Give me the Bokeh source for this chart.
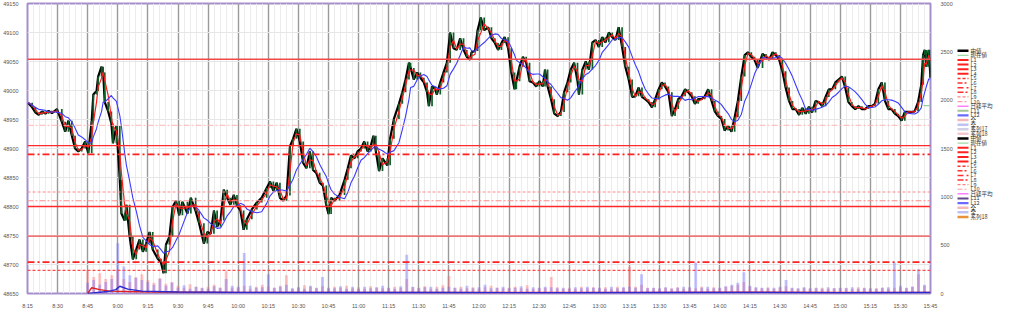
import numpy as np
from bokeh.plotting import figure
from bokeh.models import Range1d, LinearAxis, FixedTicker, Span
from bokeh.layouts import row
from bokeh.embed import file_html
from bokeh.resources import INLINE
from bokeh.core.properties import value

# ---------------- data (time = minutes after midnight) ----------------
price_t = [
    495.3, 497.3, 499.0, 500.6, 502.2, 503.9, 505.5, 507.2, 509.7, 512.1, 513.8, 515.4, 517.1, 518.7, 520.3, 522.0,
    523.7, 525.3, 527.0, 527.8, 529.4, 530.2, 531.9, 532.7, 533.5, 535.2, 536.8, 537.6, 539.3, 541.0, 541.8, 543.4,
    544.3, 545.9, 547.5, 549.2, 550.8, 552.5, 554.1, 555.8, 557.4, 559.9, 561.5, 562.8, 564.0, 565.7, 567.3, 569.0,
    570.6, 572.2, 574.7, 576.4, 578.8, 580.5, 582.9, 584.6, 586.3, 587.9,
    589.5, 591.2, 592.8, 594.5, 596.1, 597.8, 599.4, 601.1, 602.7, 604.3, 606.8, 609.3, 611.7, 614.2, 615.9, 617.5,
    619.2, 620.8, 622.5, 624.1, 625.8, 627.4, 629.0, 630.7, 632.4, 634.0, 635.7, 637.3, 638.9, 640.6, 642.2, 643.9,
    645.0, 646.3, 648.0, 650.5, 653.0, 654.6, 656.2, 657.9, 659.5, 661.2, 662.8, 664.5, 666.1, 667.4, 668.6, 670.2,
    671.9, 674.3, 675.7, 677.6,
    680.1, 681.8, 683.4, 685.1, 685.9, 687.5, 689.2, 690.8, 692.5, 694.1, 695.0, 696.6, 698.2, 699.0, 700.7, 702.3,
    704.0, 705.6, 707.3, 708.9, 710.6, 712.3, 713.9, 715.5, 716.3, 718.0, 719.3, 720.9, 722.6, 724.6, 726.2, 727.9,
    729.5, 731.2, 732.8, 734.5, 736.1, 737.7, 738.6, 740.2, 741.9, 743.5, 745.2, 746.8, 748.5, 750.1, 751.8, 752.9,
    754.2, 755.9, 757.5, 759.2, 760.8, 762.4, 764.1, 765.7, 767.4, 769.1,
    769.8, 771.5, 773.2, 774.8, 776.5, 778.1, 779.7, 781.4, 783.0, 784.7, 786.4, 788.0, 789.6, 791.3, 792.9, 794.6,
    796.3, 797.9, 799.5, 801.2, 802.8, 804.5, 806.2, 807.8, 809.5, 811.1, 812.7, 814.4, 816.1, 817.7, 819.3, 821.0,
    822.7, 824.3, 826.0, 827.6, 829.2, 830.9, 832.5, 834.2, 835.9, 837.5, 839.1, 840.8, 842.4, 844.1, 845.8, 847.4,
    849.0, 850.7, 852.4, 854.0, 855.7, 857.3, 858.9,
    861.3, 863.0, 864.6, 866.3, 867.9, 869.6, 871.2, 872.8, 874.5, 876.2, 877.8, 879.5, 881.1, 882.8, 884.4, 886.0,
    887.7, 889.3, 891.0, 892.7, 894.3, 896.0, 897.6, 899.2, 900.9, 902.5, 904.1, 905.8, 907.5, 909.1, 910.8, 912.4,
    914.1, 915.7, 917.3, 919.0, 920.7, 922.3, 924.0, 925.6, 927.2, 928.9, 930.6, 932.2, 933.8, 935.5, 937.1, 938.8,
    940.4, 941.3, 942.1, 942.9, 944.1, 945.0,
]
price_v = [
    48979, 48971, 48962, 48958, 48964, 48960, 48965, 48961, 48968, 48946, 48929, 48948, 48922, 48900, 48895, 48900,
    48912, 48892, 48948, 48993, 48999, 49024, 49041, 49031, 48980, 48964, 48943, 48909, 48939, 48846, 48788, 48776,
    48803, 48748, 48709, 48726, 48743, 48722, 48736, 48756, 48726, 48710, 48704, 48685, 48734, 48748, 48799, 48810,
    48785, 48808, 48788, 48815, 48792, 48771, 48736, 48756, 48753, 48793,
    48765, 48776, 48829, 48815, 48803, 48820, 48802, 48793, 48760, 48778, 48795, 48807, 48815, 48832, 48843, 48827,
    48841, 48815, 48810, 48819, 48904, 48917, 48934, 48912, 48875, 48866, 48895, 48863, 48858, 48841, 48836, 48802,
    48787, 48815, 48810, 48820, 48846, 48866, 48888, 48883, 48895, 48900, 48912, 48895, 48905, 48922, 48895, 48861,
    48883, 48871, 48917, 48951,
    48977, 48997, 49019, 49048, 49039, 49019, 49031, 49022, 49014, 48997, 48973, 49007, 49002, 48993, 49014, 49031,
    49048, 49100, 49073, 49070, 49090, 49070, 49058, 49053, 49066, 49068, 49104, 49126, 49104, 49109, 49090, 49082,
    49070, 49082, 49092, 49073, 49031, 49002, 49016, 49041, 49058, 49048, 49016, 49014, 49007, 49016, 49007, 49036,
    49007, 48985, 48960, 48956, 48963, 48997, 49014, 49036, 49048, 49016,
    48993, 49036, 49050, 49036, 49083, 49087, 49075, 49092, 49083, 49100, 49092, 49087, 49109, 49075, 49041, 49019,
    48989, 48990, 49005, 48989, 48985, 48980, 48971, 48985, 49002, 49014, 49007, 48997, 48956, 48968, 48985, 48990,
    49002, 48997, 48990, 48977, 48985, 48985, 48990, 49002, 48982, 48964, 48956, 48951, 48931, 48939, 48929, 48954,
    48982, 49024, 49061, 49066, 49058, 49053, 49039,
    49063, 49058, 49053, 49066, 49061, 49053, 49033, 49005, 48982, 48968, 48968, 48958, 48970, 48960, 48972, 48962,
    48982, 48980, 48973, 48989, 49002, 49002, 49014, 49019, 49024, 49005, 48980, 48973, 48968, 48973, 48968, 48968,
    48973, 48973, 48977, 49002, 49014, 48982, 48968, 48968, 48960, 48956, 48948, 48963, 48963, 48963, 48964, 48980,
    49010, 49061, 49070, 49041, 49070, 49022,
]
current_value = 48974

# horizontal levels L1..L10
level_values = [49054, 48940, 48905, 48890, 48825, 48810, 48800, 48749, 48704, 48690]

# volume (right axis), 3-minute bars from 8:45
vol_start, vol_step = 525, 3
vol_red = [
    240, 170, 210, 150, 190,  250, 150, 120, 170, 200,  140, 110, 160, 100, 120,  80, 60, 95, 70, 55,
    70, 90, 60, 230, 60,  60, 80, 50, 70, 90,  70, 60, 80, 190, 50,  60, 85, 70, 55, 75,
    50, 70, 60, 80, 55,  65, 50, 75, 60, 55,  55, 70, 60, 150, 65,  60, 75, 50, 70, 85,
    180, 60, 70, 55, 65,  50, 65, 80, 60, 55,  60, 70, 55, 85, 50,  55, 60, 170, 65, 50,
    60, 50, 70, 55, 65,  55, 65, 50, 70, 60,  280, 70, 90, 60, 55,  50, 60, 55, 65, 50,
    60, 55, 70, 50, 65,  55, 70, 80, 90, 120,  70, 60, 55, 65, 50,  60, 75, 55, 50, 60,
    50, 55, 60, 50, 55,  55, 60, 50, 65, 55,  50, 55, 60, 50, 60,  60, 55, 70, 200, 80,
]
vol_blue = [
    110, 140, 90, 120, 150,  520, 280, 190, 160, 140,  120, 90, 150, 80, 110,  60, 85, 50, 70, 60,
    50, 75, 60, 150, 80,  70, 420, 80, 60, 65,  200, 60, 70, 90, 55,  65, 50, 80, 60, 170,
    60, 55, 75, 50, 70,  50, 70, 55, 65, 80,  60, 50, 75, 400, 70,  55, 65, 70, 50, 60,
    70, 60, 50, 80, 55,  65, 90, 55, 60, 70,  55, 60, 75, 50, 65,  60, 70, 65, 55, 60,
    50, 65, 55, 70, 60,  60, 50, 70, 55, 65,  70, 60, 200, 55, 60,  55, 65, 50, 60, 70,
    65, 320, 60, 70, 55,  60, 75, 90, 110, 220,  80, 65, 60, 55, 60,  70, 140, 60, 55, 65,
    55, 60, 50, 65, 55,  60, 55, 65, 50, 60,  55, 50, 60, 65, 320,  80, 60, 70, 250, 90,
]
vol_red_line_t = [525, 527, 531, 536, 545, 560, 600, 640, 700, 760, 800, 850, 900, 945]
vol_red_line_v = [0, 60, 40, 25, 20, 15, 12, 12, 10, 10, 12, 14, 10, 12]
vol_blue_line_t = [525, 535, 539, 541, 545, 552, 570, 600, 650, 700, 760, 820, 860, 900, 945]
vol_blue_line_v = [0, 20, 40, 75, 45, 25, 15, 12, 10, 10, 8, 10, 12, 8, 10]

x_ticks = list(range(495, 946, 15))
y_ticks = list(range(48650, 49151, 50))
vol_ticks = [0, 500, 1000, 1500, 2000, 2500, 3000]

legend_labels = ["中値", "現在値", "L1", "L2", "L3", "L4", "L5", "L6", "L7", "L8", "L9", "L10",
                 "日経平均", "L11", "L12", "全", "全", "系列17", "系列18",
                 "中値", "現在値", "L1", "L2", "L3", "L4", "L5", "L6", "L7", "L8", "L9", "L10",
                 "日経平均", "L11", "L12", "全", "全", "系列18"]

# ---------------- derived ----------------
t = np.array(price_t)
v = np.array(price_v, dtype=float)


def time_ma(tt, vv, w):
    out = np.empty_like(vv)
    for i in range(len(tt)):
        m = (tt > tt[i] - w) & (tt <= tt[i])
        out[i] = vv[m].mean()
    return out


ma_short = time_ma(t, v, 3.0)
ma_long = time_ma(t, v, 10.0)

body_top = np.maximum(v[1:], v[:-1])
body_bot = np.minimum(v[1:], v[:-1])
vol_t = [vol_start + vol_step * i for i in range(len(vol_red))]

# ---------------- main figure ----------------
FONT = "Liberation Sans"
p = figure(width=955, height=311, x_range=Range1d(495, 945), y_range=Range1d(48650, 49150),
           output_backend="svg", toolbar_location=None, title=None,
           min_border_left=22, min_border_right=22, min_border_top=3, min_border_bottom=14)
p.background_fill_color = "white"
p.outline_line_color = "#a58fcb"
p.outline_line_width = 2

p.extra_y_ranges = {"vol": Range1d(0, 3000)}

for ax in [p.xaxis[0], p.yaxis[0]]:
    ax.axis_line_color = None
    ax.major_tick_line_color = None
    ax.minor_tick_line_color = None
    ax.major_label_text_font_size = "5.5px"
    ax.major_label_text_color = "#555555"
    ax.major_label_text_font = FONT
    ax.major_label_standoff = 3

p.xaxis[0].ticker = FixedTicker(ticks=x_ticks, minor_ticks=list(range(495, 946, 3)))
p.xaxis[0].major_label_overrides = {tk: f"{tk // 60}:{tk % 60:02d}" for tk in x_ticks}
p.yaxis[0].ticker = FixedTicker(ticks=y_ticks)

rax = LinearAxis(y_range_name="vol", ticker=FixedTicker(ticks=vol_ticks))
rax.axis_line_color = None
rax.major_tick_line_color = None
rax.minor_tick_line_color = None
rax.major_label_text_font_size = "5.5px"
rax.major_label_text_color = "#555555"
rax.major_label_text_font = FONT
rax.major_label_standoff = 4
p.add_layout(rax, "right")

p.xgrid.grid_line_color = "#9a9a9a"
p.xgrid.grid_line_width = 1.4
p.xgrid.minor_grid_line_color = "#ececec"
p.xgrid.minor_grid_line_width = 1
p.ygrid.ticker = FixedTicker(ticks=y_ticks)
p.ygrid.grid_line_color = "#e6e6e6"

# volume bars
p.vbar(x=vol_t, top=vol_red, bottom=0, width=1.4, y_range_name="vol",
       fill_color="#ff6a6a", line_color=None, fill_alpha=0.4)
p.vbar(x=vol_t, top=vol_blue, bottom=0, width=1.4, y_range_name="vol",
       fill_color="#6a6aff", line_color=None, fill_alpha=0.4)
p.line(vol_red_line_t, vol_red_line_v, y_range_name="vol", line_color="#e02020", line_width=1.4)
p.line(vol_blue_line_t, vol_blue_line_v, y_range_name="vol", line_color="#2a2ad0", line_width=1.4)

# horizontal levels
level_styles = [
    ("#f04a4a", 1.6, "solid"),
    ("#ffb4b4", 1.0, "6 2 2 2"),
    ("#ff2a2a", 1.3, "solid"),
    ("#ff2020", 1.8, "7 3 2 3"),
    ("#ff8c8c", 1.2, "3 2"),
    ("#ff8c8c", 1.1, "6 2 2 2"),
    ("#ff2a2a", 1.3, "solid"),
    ("#f04a4a", 1.4, "solid"),
    ("#ff2020", 1.8, "7 3 2 3"),
    ("#ff4a4a", 1.2, "3 2"),
]
for lv, (c, w, d) in zip(level_values, level_styles):
    p.add_layout(Span(location=lv, dimension="width", line_color=c, line_width=w, line_dash=d))

# price
p.line(t, v, line_color="black", line_width=2.2)
p.vbar(x=t[1:], top=body_top, bottom=body_bot, width=0.85, fill_color="#0f5e27", line_color=None)
p.line(t, ma_short, line_color="#ff1a1a", line_width=1.2)
p.line(t, ma_long, line_color="#3a3aff", line_width=1.1)
p.line([941.5, 945], [current_value, current_value], line_color="#8fd39a", line_width=1.2)

# ---------------- legend panel ----------------
leg = figure(width=69, height=311, x_range=Range1d(0, 69), y_range=Range1d(311, 0),
             output_backend="svg", toolbar_location=None, title=None,
             x_axis_type=None, y_axis_type=None,
             min_border_left=0, min_border_right=0, min_border_top=0, min_border_bottom=0)
leg.grid.visible = False
leg.outline_line_color = None

group_styles = [
    ("black", 2.4, "solid"), ("#9fd9a8", 1.2, "solid"),
    ("#ff2020", 2.0, "solid"), ("#ff2020", 2.0, "solid"), ("#ff2020", 2.0, "solid"), ("#ff2020", 2.0, "solid"),
    ("#ff3030", 1.5, "3 2"), ("#ff3030", 1.5, "5 2 2 2"), ("#ff3030", 1.5, "6 3 2 3"), ("#ff3030", 1.5, "6 2 2 2 2 2"),
    ("#ff8080", 1.2, "3 2"), ("#ffa0a0", 1.2, "5 2 2 2"),
    ("#ff80ff", 1.5, "solid"),
]
legend_styles = group_styles + [
    ("#a6c596", 2.0, "solid"), ("#6a6aff", 2.2, "solid"), ("#f5b8b8", 2.5, "solid"),
    ("#c0c0f2", 2.5, "solid"), ("#cfcfe6", 2.5, "solid"), ("#f5c8d0", 2.5, "solid"),
] + group_styles + [
    ("#604888", 2.0, "solid"), ("#6a6aff", 2.2, "solid"), ("#f5b8b8", 2.5, "solid"),
    ("#c0c0f2", 2.5, "solid"), ("#e8903a", 2.5, "solid"),
]
ys = [50.7 + 4.95 * i for i in range(len(legend_labels))]
for yy, (c, w, d) in zip(ys, legend_styles):
    leg.line([2, 13], [yy, yy], line_color=c, line_width=w, line_dash=d)
leg.text(x=[15] * len(legend_labels), y=ys, text=legend_labels,
         text_font=value("Noto Sans CJK JP"), text_font_size=value("5.5px"),
         text_baseline="middle", text_align="left", text_color="#333333")

layout = row(p, leg)
open("out.html", "w").write(file_html(layout, INLINE))
